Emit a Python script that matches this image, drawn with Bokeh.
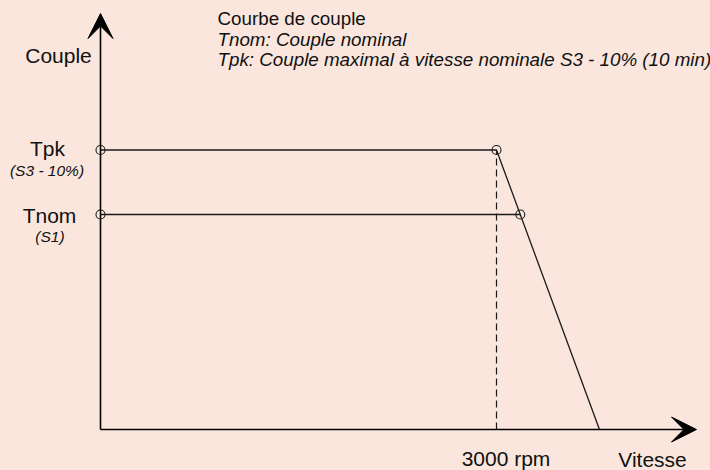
from bokeh.plotting import figure
from bokeh.models import Range1d, Arrow, VeeHead, Label, GlobalInlineStyleSheet
from bokeh.embed import file_html
from bokeh.resources import INLINE

# ---- data (speed in rpm, torque in relative units) ----
rated_speed = 3000
max_speed = 3780
t_pk = 1.3
t_nom = 1.0
nom_corner_speed = 3180  # where the Tnom line meets the drop-off

pk_curve_x = [0, rated_speed, max_speed]
pk_curve_y = [t_pk, t_pk, 0]
nom_line_x = [0, nom_corner_speed]
nom_line_y = [t_nom, t_nom]
marker_x = [0, rated_speed, 0, nom_corner_speed]
marker_y = [t_pk, t_pk, t_nom, t_nom]

title_line = "Courbe de couple"
legend_line_1 = "Tnom: Couple nominal"
legend_line_2 = "Tpk: Couple maximal à vitesse nominale S3 - 10% (10 min)"

# ---- layout / scale ----
W, H = 710, 470
PX_PER_RPM = 0.132
PX_PER_T = 215.0
ORIG_X = 100     # px from left
ORIG_Y = 41      # px from bottom
BG = "#FAE6DD"
INK = "#111111"
FONT = "Liberation Sans"


def dx(ix):
    return (ix - ORIG_X) / PX_PER_RPM


def dy(iy):
    return ((H - iy) - ORIG_Y) / PX_PER_T


p = figure(width=W, height=H, output_backend="svg", toolbar_location=None,
           x_range=Range1d(-ORIG_X / PX_PER_RPM, (W - ORIG_X) / PX_PER_RPM),
           y_range=Range1d(-ORIG_Y / PX_PER_T, (H - ORIG_Y) / PX_PER_T),
           min_border=0)
p.axis.visible = False
p.grid.visible = False
p.outline_line_color = None
p.background_fill_color = BG
p.border_fill_color = BG
p.stylesheets = [GlobalInlineStyleSheet(css=f"html, body {{ background: {BG}; }}")]

# axes with arrowheads
x_tip = dx(696)
y_tip = dy(13)
p.add_layout(Arrow(end=VeeHead(size=25, fill_color="black", line_color="black", line_width=1),
                   x_start=0, y_start=0, x_end=x_tip, y_end=0,
                   line_color="black", line_width=1.6))
p.add_layout(Arrow(end=VeeHead(size=25, fill_color="black", line_color="black", line_width=1),
                   x_start=0, y_start=0, x_end=0, y_end=y_tip,
                   line_color="black", line_width=1.6))

# curves
p.line(pk_curve_x, pk_curve_y, line_color="#1a1a1a", line_width=1.3)
p.line(nom_line_x, nom_line_y, line_color="#1a1a1a", line_width=1.3)
p.line([rated_speed, rated_speed], [0, t_pk], line_color="#1a1a1a", line_width=1.2, line_dash="7 4")
p.scatter(marker_x, marker_y, marker="circle", size=9, fill_color=None,
          line_color="#1a1a1a", line_width=1.1)


def lab(text, ix, baseline_iy, size, style="normal", align="center"):
    # anchor at the middle of the em box: baseline - 0.35 em
    p.add_layout(Label(x=dx(ix), y=dy(baseline_iy - 0.35 * size), text=text,
                       text_font=FONT, text_font_size=f"{size}px",
                       text_font_style=style, text_align=align, text_baseline="middle",
                       text_color=INK))


lab("Couple", 58, 62, 21)
lab("Tpk", 47, 155, 21)
lab("(S3 - 10%)", 46.5, 175, 15.5, style="italic")
lab("Tnom", 49, 222, 21)
lab("(S1)", 49.5, 241, 15.5, style="italic")
lab("3000 rpm", 505.5, 465, 21)
lab("Vitesse", 652, 466, 21)
lab(title_line, 217, 25, 18.8, align="left")
lab(legend_line_1, 217, 45.5, 18.8, style="italic", align="left")
lab(legend_line_2, 217, 66, 18.8, style="italic", align="left")

open("out.html", "w").write(file_html(p, INLINE))
